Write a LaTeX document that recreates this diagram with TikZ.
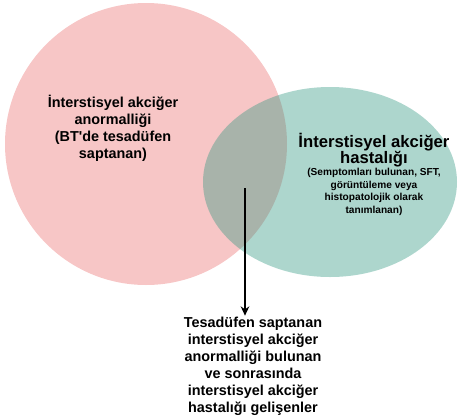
\documentclass[tikz,border=0pt]{standalone}
\usepackage{fontspec}
\setmainfont{Liberation Sans}
\usetikzlibrary{shapes.geometric,arrows.meta,positioning}
\definecolor{pembe}{RGB}{247,198,198}
\definecolor{yesil}{RGB}{50,152,130}
\tikzset{
  kume/.style={inner sep=0pt},
  yazi/.style={inner sep=0.75pt,align=center,font=\bfseries\fontsize{10.8}{12.7}\selectfont},
  kucukyazi/.style={font=\bfseries\fontsize{7.6}{9.4}\selectfont}
}
\begin{document}
\begin{tikzpicture}[x=0.75pt,y=0.75pt,yscale=-1,xscale=1]
			\useasboundingbox (0,0) rectangle (458,419);
			
			%Shape: Circle [id:abn] 
			\node [kume,circle,fill=pembe,minimum size=282*0.75pt] (abn) at (146,144) {};
			%Shape: Ellipse [id:hst] 
			\node [kume,ellipse,fill=yesil,fill opacity=0.4,minimum width=254*0.75pt,minimum height=190*0.75pt] (hst) at (330,182) {};
			
			% Text Node
			\node [yazi] (abnyazi) at (113,128) {İnterstisyel akciğer\\anormalliği\\(BT\textquotesingle de tesadüfen\\saptanan)};
			% Text Node
			\node [yazi,font=\bfseries\fontsize{12.5}{12.2}\selectfont] (hstyazi) at (374,150) {İnterstisyel akciğer\\hastalığı};
			% Text Node
			\node [yazi,kucukyazi,below=-1pt of hstyazi] (hstalt) {(Semptomları bulunan, SFT,\\görüntüleme veya\\histopatolojik olarak\\tanımlanan)};
			% Text Node
			\node [yazi] (sonuc) at (253,366) {Tesadüfen saptanan\\interstisyel akciğer\\anormalliği bulunan\\ve sonrasında\\interstisyel akciğer\\hastalığı gelişenler};
			
			%Straight Lines [id:ok] 
			\coordinate (kesisim) at (245,188);
			\draw [line width=1.5pt,-{Stealth[length=7pt,width=6.5pt]}] (kesisim) -- (kesisim |- sonuc.north) ;
		\end{tikzpicture}
\end{document}
